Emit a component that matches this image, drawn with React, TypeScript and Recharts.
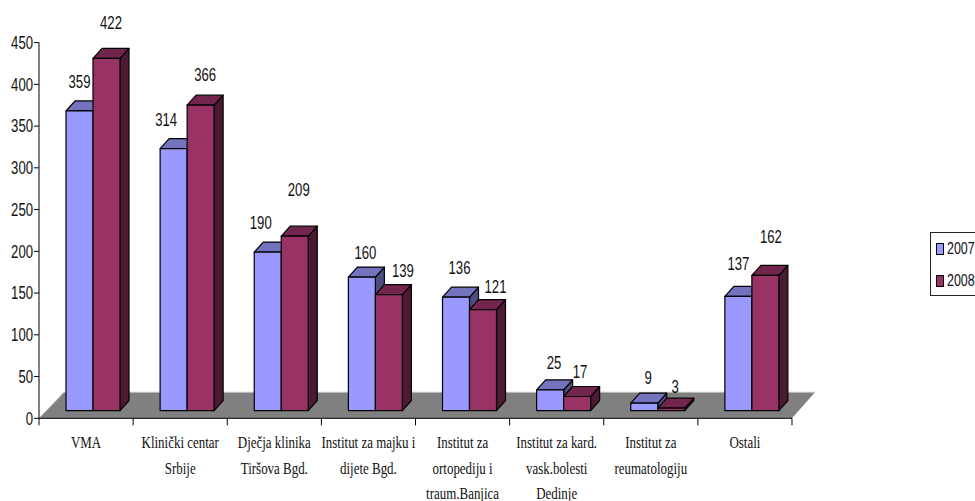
import { BarChart, Bar, XAxis, YAxis, Legend, ReferenceArea } from "recharts";

const categories = [
  "VMA",
  "Klinički centar\nSrbije",
  "Dječja klinika\nTiršova Bgd.",
  "Institut za majku i\ndijete Bgd.",
  "Institut za\nortopediju i\ntraum.Banjica",
  "Institut za kard.\nvask.bolesti\nDedinje",
  "Institut za\nreumatologiju",
  "Ostali",
];
const values2007 = [359, 314, 190, 160, 136, 25, 9, 137];
const values2008 = [422, 366, 209, 139, 121, 17, 3, 162];
const valueTicks = [0, 50, 100, 150, 200, 250, 300, 350, 400, 450];

// labels were dragged by hand in the original, so each one has its own nudge
const labelDx2007 = [0, -7.5, -7, 3.5, 3.5, 4, 4, 0];
const labelDx2008 = [4.5, 4.5, 4, 14, 12.5, 3, 4, 5.5];
const labelRise2007 = [29, 29, 29, 24, 29, 27, 25, 33];
const labelRise2008 = [36, 30.5, 46, 23.5, 22.5, 24.5, 21, 39];

const tableData = categories.map((name, i) => ({
  name,
  y2007: values2007[i],
  y2008: values2008[i],
}));

const BLUE = { front: "#9999ff", top: "#7373bf", side: "#4d4d80" };
const RED = { front: "#993366", top: "#73264d", side: "#4d1a33" };

// the front of the boxes sits a little behind the axis plane
const SHIFT_X = 7;
const SHIFT_Y = -7.6;
const DEPTH_X = 9;
const DEPTH_Y = 10;

const Box3D = ({ x, y, width, height, colors }: any) => {
  const l = x + SHIFT_X;
  const r = l + width;
  const t = y + SHIFT_Y;
  const b = t + height;
  const line = { stroke: "#000", strokeWidth: 1.2, strokeLinejoin: "round" as const };
  return (
    <g>
      <polygon
        points={`${r},${t} ${r + DEPTH_X},${t - DEPTH_Y} ${r + DEPTH_X},${b - DEPTH_Y} ${r},${b}`}
        fill={colors.side}
        {...line}
      />
      <polygon
        points={`${l},${t} ${l + DEPTH_X},${t - DEPTH_Y} ${r + DEPTH_X},${t - DEPTH_Y} ${r},${t}`}
        fill={colors.top}
        {...line}
      />
      <rect x={l} y={t} width={width} height={height} fill={colors.front} {...line} />
    </g>
  );
};

const Floor = ({ x, y, width, height }: any) => {
  const bottom = y + height;
  const backLeft = x + 25;
  const backRight = x + width + 23;
  return (
    <g>
      <polygon
        points={`${x},${bottom} ${backLeft},${y} ${backRight},${y} ${x + width},${bottom}`}
        fill="#808080"
      />
      <polyline
        points={`${x},${bottom} ${backLeft},${y} ${backRight},${y}`}
        fill="none"
        stroke="#c0c0c0"
        strokeWidth={1}
      />
    </g>
  );
};

const barLabel = (dxs: number[], rises: number[]) => (props: any) => {
  const { x, y, width, value, index } = props;
  const cx = x + SHIFT_X + width / 2 + dxs[index];
  const cy = y + SHIFT_Y - rises[index];
  return (
    <text
      transform={`translate(${cx},${cy}) scale(0.73,1)`}
      textAnchor="middle"
      dominantBaseline="central"
      fontFamily="Liberation Sans"
      fontSize={18}
      fill="#111"
    >
      {value}
    </text>
  );
};

const ValueTick = ({ x, y, payload }: any) => (
  <text
    transform={`translate(${x},${y}) scale(0.73,1)`}
    textAnchor="end"
    dominantBaseline="central"
    fontFamily="Liberation Sans"
    fontSize={18}
    fill="#111"
  >
    {payload.value}
  </text>
);

const CategoryTick = ({ x, y, payload, index }: any) => {
  const half = 47.06;
  const lines = String(payload.value).split("\n");
  return (
    <g>
      <line x1={x - half} x2={x - half} y1={y - 8} y2={y - 1} stroke="#000" />
      {index === categories.length - 1 && (
        <line x1={x + half} x2={x + half} y1={y - 8} y2={y - 1} stroke="#000" />
      )}
      <text
        transform={`translate(${x},${y + 15}) scale(0.74,1)`}
        textAnchor="middle"
        dominantBaseline="central"
        fontFamily="Liberation Serif"
        fontSize={17.5}
        fill="#111"
      >
        {lines.map((t, i) => (
          <tspan key={i} x={0} dy={i === 0 ? 0 : 25.5}>
            {t}
          </tspan>
        ))}
      </text>
    </g>
  );
};

const LegendBox = ({ payload }: any) => (
  <div
    style={{
      width: 60,
      height: 64,
      boxSizing: "border-box",
      border: "1px solid #222",
      background: "#fff",
    }}
  >
    {(payload || []).map((p: any, i: number) => (
      <div
        key={p.value}
        style={{
          position: "absolute",
          left: 6,
          top: 11 + i * 32,
          height: 12,
          display: "flex",
          alignItems: "center",
        }}
      >
        <span
          style={{
            display: "inline-block",
            boxSizing: "border-box",
            width: 8,
            height: 12,
            background: p.color,
            border: "1px solid #000",
          }}
        />
        <span
          style={{
            marginLeft: 3,
            fontFamily: "Liberation Sans",
            fontSize: 17,
            color: "#111",
            transform: "scaleX(0.73)",
            transformOrigin: "left center",
          }}
        >
          {p.value}
        </span>
      </div>
    ))}
  </div>
);

export default function App() {
  return (
    <div
      style={{
        position: "absolute",
        left: 0,
        top: 0,
        width: 975,
        height: 501,
        overflow: "hidden",
        background: "#fff",
      }}
    >
      <BarChart
        width={975}
        height={501}
        data={tableData}
        margin={{ top: 42.6, right: 183, bottom: 0, left: 0 }}
        barGap={0}
        barCategoryGap={20}
      >
        <XAxis
          dataKey="name"
          height={82.7}
          interval={0}
          tickLine={false}
          tick={<CategoryTick />}
          axisLine={{ stroke: "#000" }}
        />
        <YAxis
          width={39}
          domain={[0, 450]}
          ticks={valueTicks}
          interval={0}
          tickSize={5}
          tickMargin={1}
          tick={<ValueTick />}
          axisLine={{ stroke: "#000" }}
          tickLine={{ stroke: "#000" }}
        />
        <ReferenceArea y1={0} y2={31.2} shape={<Floor />} stroke="none" fill="none" />
        <Bar
          dataKey="y2007"
          name="2007"
          fill={BLUE.front}
          isAnimationActive={false}
          shape={(p: any) => <Box3D {...p} colors={BLUE} />}
          label={barLabel(labelDx2007, labelRise2007)}
        />
        <Bar
          dataKey="y2008"
          name="2008"
          fill={RED.front}
          isAnimationActive={false}
          shape={(p: any) => <Box3D {...p} colors={RED} />}
          label={barLabel(labelDx2008, labelRise2008)}
        />
        <Legend
          layout="vertical"
          align="center"
          verticalAlign="middle"
          content={<LegendBox />}
          wrapperStyle={{ position: "absolute", left: 930, top: 232, width: 60, height: 64 }}
        />
      </BarChart>
    </div>
  );
}
